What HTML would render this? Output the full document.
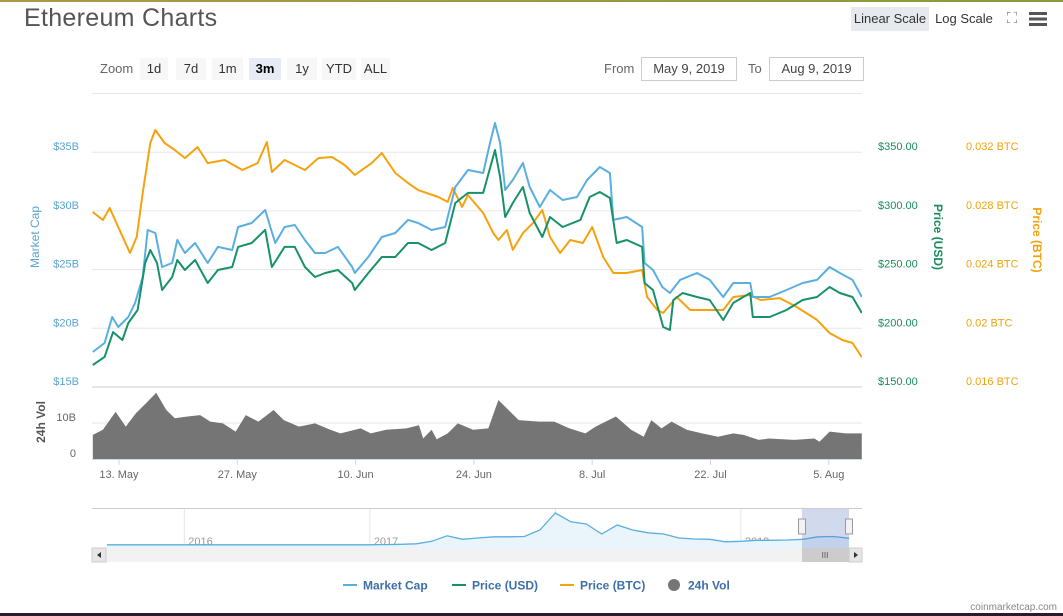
<!DOCTYPE html>
<html><head><meta charset="utf-8"><style>
body{margin:0;width:1063px;height:616px;overflow:hidden;background:#fff;font-family:"Liberation Sans",sans-serif;position:relative}
.topbar{position:absolute;left:0;top:0;width:1063px;height:2px;background:linear-gradient(90deg,#a89a4a,#8a9a3a)}
.botbar{position:absolute;left:0;top:613px;width:1063px;height:3px;background:#2a1a2a}
h1{position:absolute;left:24px;top:4px;margin:0;font-weight:normal;font-size:25px;color:#555;letter-spacing:0.3px}
.btn{position:absolute;font-size:13px;color:#333;text-align:center;line-height:24px;height:24px}
.zb{position:absolute;top:58px;height:22px;line-height:22px;font-size:13px;color:#333;background:#f7f7f7;text-align:center}
.box{position:absolute;top:57px;height:22px;line-height:22px;border:1px solid #ccc;font-size:13px;color:#444;text-align:center}
.lbl{position:absolute;font-size:13px;color:#666}
svg{position:absolute;left:0;top:0}
</style></head><body>
<div class="topbar"></div>
<h1>Ethereum Charts</h1>
<div class="btn" style="left:851px;top:7px;width:78px;background:#e6e9ee">Linear Scale</div>
<div class="btn" style="left:933px;top:7px;width:62px">Log Scale</div>
<div class="btn" style="left:1002px;top:7px;width:20px;color:#888;font-size:15px">⛶</div>
<div style="position:absolute;left:1029px;top:12px;width:18px;height:14px;background:linear-gradient(#555 0 3px,transparent 3px 5.5px,#555 5.5px 8.5px,transparent 8.5px 11px,#555 11px 14px)"></div>
<div class="lbl" style="left:100px;top:61px">Zoom</div>
<div class="zb" style="left:140px;width:28px">1d</div>
<div class="zb" style="left:176px;width:30px">7d</div>
<div class="zb" style="left:212px;width:31px">1m</div>
<div class="zb" style="left:249px;width:32px;background:#e6ebf5;font-weight:bold;color:#000">3m</div>
<div class="zb" style="left:287px;width:30px">1y</div>
<div class="zb" style="left:322px;width:34px">YTD</div>
<div class="zb" style="left:361px;width:29px">ALL</div>
<div class="lbl" style="left:604px;top:61px">From</div>
<div class="box" style="left:641px;width:94px">May 9, 2019</div>
<div class="lbl" style="left:748px;top:61px">To</div>
<div class="box" style="left:769px;width:93px">Aug 9, 2019</div>
<svg id="chart" width="1063" height="616"></svg>
<div class="botbar"></div>
<script>
// ---- data (days since 13 May 2019) ----
const mcDays=[-3.1,-1.7,-0.8,-0.1,1.1,1.9,2.8,3.4,4.3,5.1,6.3,6.9,7.8,9.0,10.5,11.7,13.4,14.1,15.7,17.3,17.9,18.5,19.6,20.8,22.0,23.2,24.4,25.9,27.6,27.9,29.5,31.1,32.7,34.2,35.4,37.0,38.6,39.8,41.3,43.1,43.9,44.5,45.1,45.7,46.6,47.8,48.6,49.8,51.0,52.5,54.2,55.4,56.9,58.1,58.5,60.1,61.9,62.2,63.2,64.3,65.2,66.4,68.4,69.9,71.5,72.7,74.7,75.0,77.0,79.0,80.9,82.6,84.1,85.3,86.8,87.9];
const mcVals=[17.98,18.75,20.96,20.11,20.96,22.16,24.37,28.37,28.12,25.22,25.56,27.52,26.41,27.27,25.56,26.93,26.67,28.63,28.97,30.08,28.63,27.27,28.63,28.80,27.52,26.41,26.41,26.93,25.22,24.71,26.07,27.78,28.12,29.23,28.97,28.37,28.63,32.04,33.48,33.23,35.78,37.49,35.78,31.78,32.63,34.08,32.04,30.33,31.78,30.93,31.18,32.63,33.74,33.23,29.23,29.48,28.63,25.56,24.97,23.52,23.01,24.12,24.71,24.12,22.67,23.86,23.86,22.67,22.67,23.26,23.86,24.12,25.22,24.71,24.12,22.67];
const usdDays=[-3.1,-1.7,-0.7,0.4,1.1,2.2,3.1,3.7,4.5,5.1,6.3,6.9,7.8,9.0,10.5,11.7,13.4,14.1,15.7,17.3,18.1,19.6,20.8,22.0,23.2,24.4,25.9,27.6,27.9,29.5,31.1,32.7,34.2,35.4,37.0,38.6,39.8,41.3,43.1,44.5,45.1,45.7,46.6,47.8,48.6,50.1,51.0,52.5,54.6,55.7,56.9,58.1,58.9,60.1,61.9,62.2,63.2,64.4,65.2,65.6,66.7,68.4,69.9,71.5,72.7,74.7,75.0,77.0,79.0,80.9,82.6,84.1,85.3,86.8,87.9];
const usdVals=[168.7,175.6,196.8,190.0,204.5,215.6,255.6,266.7,255.6,232.6,243.7,258.2,249.7,258.2,238.6,249.7,252.2,269.3,272.7,283.8,252.2,269.3,269.3,252.2,243.7,247.1,249.7,238.6,232.6,247.1,260.7,260.7,272.7,272.7,266.7,272.7,306.7,315.3,315.3,351.9,328.9,294.8,306.7,320.4,298.2,277.8,294.8,286.3,292.3,311.8,316.1,311.0,272.7,275.2,269.3,238.6,232.6,201.1,198.6,224.1,230.1,226.7,224.1,207.1,221.6,230.1,209.6,209.6,215.6,224.1,226.7,235.2,230.1,226.7,213.0];
const btcDays=[-3.1,-1.9,-1.1,-0.1,1.3,2.1,2.8,3.7,4.3,5.4,6.6,7.8,9.3,10.5,12.5,14.6,16.4,17.5,18.1,19.6,22.0,23.6,25.2,26.7,27.9,29.9,31.1,32.7,34.2,35.4,37.8,38.9,39.5,40.6,41.3,43.1,44.3,44.9,45.9,46.6,47.8,49.0,50.1,51.0,52.2,53.4,54.9,56.0,57.3,58.5,60.1,61.9,62.5,63.7,64.4,66.0,67.6,69.9,71.5,72.7,74.7,75.9,78.2,80.2,82.6,84.1,85.6,86.8,87.9];
const btcVals=[0.02792,0.02738,0.02820,0.02690,0.02513,0.02622,0.02922,0.03263,0.03351,0.03263,0.03215,0.03160,0.03235,0.03126,0.03147,0.03079,0.03126,0.03269,0.03065,0.03147,0.03079,0.03160,0.03167,0.03113,0.03045,0.03126,0.03194,0.03058,0.02990,0.02942,0.02895,0.02861,0.02956,0.02827,0.02908,0.02786,0.02649,0.02602,0.02670,0.02534,0.02649,0.02718,0.02806,0.02622,0.02513,0.02602,0.02581,0.02690,0.02486,0.02377,0.02377,0.02397,0.02213,0.02125,0.02104,0.02213,0.02125,0.02125,0.02125,0.02213,0.02227,0.02193,0.02206,0.02145,0.02057,0.01968,0.01920,0.01900,0.01804];
const volDays=[-3.1,-1.9,-0.4,0.8,2.0,3.2,4.4,5.6,6.6,8.1,9.6,10.8,12.3,13.8,15.0,16.5,18.3,19.5,21.3,23.2,25.0,26.2,28.6,29.8,31.6,34.0,35.5,36.0,37.0,37.6,38.9,40.1,41.9,43.7,44.9,46.1,47.3,49.7,51.5,53.3,55.2,56.4,58.8,60.6,62.1,63.0,64.2,65.4,67.2,69.0,70.9,72.7,73.9,75.7,76.9,79.9,82.3,82.9,84.1,86.0,87.9];
const volVals=[6.7,8.1,13.1,9.0,12.7,15.5,18.4,13.6,11.3,11.8,12.2,10.4,9.9,7.6,12.2,10.4,13.6,10.8,9.0,9.9,8.1,7.1,8.5,7.1,8.1,8.5,9.4,5.7,8.1,5.5,7.1,9.9,8.1,8.5,16.4,13.6,10.8,10.4,10.4,8.5,7.1,9.0,11.8,8.1,6.2,10.8,8.5,10.4,8.1,7.1,6.2,7.1,6.7,5.3,5.7,5.3,5.7,4.8,7.6,7.1,7.1];
const navVals=[1,1,1,1,1,1,1,1,1,1,1,1,1,1,1,1,1,1,1.5,3,5,15,37,23,28,33,33,34,60,128,93,84,44,80,60,49,44,28,24,23,13,15,19,19,20,23,33,34,27];
const navYears=['2016','2017','2018','2019'];
const navYearMonth=[5,17,29,41];
const xTickLabels=['13. May','27. May','10. Jun','24. Jun','8. Jul','22. Jul','5. Aug'];
const xTickDays=[0,14,28,42,56,70,84];
const mcTicks=[15,20,25,30,35];
const usdTicks=[150,200,250,300,350];
const btcTicks=[0.016,0.02,0.024,0.028,0.032];
const volTicks=[0,10];

// ---- scales ----
const X=d=>119+d*8.45;
const yMC=v=>387-(v-15)/5*58.7;
const yUSD=v=>387-(v-150)/50*58.7;
const yBTC=v=>387-(v-0.016)/0.004*58.7;
const yVol=v=>459-v*3.6;
const xNav=m=>107+m*15.46;
const yNav=v=>545-v/4;

const svg=document.getElementById('chart');
const NS='http://www.w3.org/2000/svg';
function mk(tag,attrs,parent){const e=document.createElementNS(NS,tag);for(const k in attrs)e.setAttribute(k,attrs[k]);(parent||svg).appendChild(e);return e;}
function txt(s,attrs){const t=mk('text',attrs);t.textContent=s;return t;}

const defs=mk('defs',{});
const cp=mk('clipPath',{id:'plotclip'},defs);
mk('rect',{x:92,y:100,width:770,height:360},cp);

// separator
let e=mk('line',{x1:92,y1:93.5,x2:862,y2:93.5,stroke:'#e6e6e6'});



// gridlines + y labels
mcTicks.forEach((v,i)=>{
  const y=yMC(v);
  const g=mk('line',{x1:92,y1:y,x2:862,y2:y,stroke:'#e6e6e6'});
  
  
  const t=txt('$'+v+'B',{x:79,y:y-2,'text-anchor':'end','font-size':11,fill:'#5aa4d4'});
  
  
});
usdTicks.forEach(v=>{
  const t=txt('$'+v.toFixed(2),{x:878,y:yUSD(v)-2,'font-size':11,fill:'#1a8c5a'});
  
  
});
btcTicks.forEach(v=>{
  const t=txt(String(+v.toFixed(3))+' BTC',{x:966,y:yBTC(v)-2,'font-size':11,fill:'#f0a30a'});
  
  
});
let t;
t=txt('Market Cap',{x:0,y:0,transform:'translate(39,237) rotate(-90)','text-anchor':'middle','font-size':12,fill:'#5aa4d4'});


t=txt('Price (USD)',{x:0,y:0,transform:'translate(934,237) rotate(90)','text-anchor':'middle','font-size':12,'font-weight':'bold',fill:'#1a8c5a'});


t=txt('Price (BTC)',{x:0,y:0,transform:'translate(1033,240) rotate(90)','text-anchor':'middle','font-size':12,'font-weight':'bold',fill:'#f0a30a'});



// volume panel
e=mk('line',{x1:92,y1:387,x2:862,y2:387,stroke:'#ccc'});


e=mk('line',{x1:92,y1:yVol(10),x2:862,y2:yVol(10),stroke:'#e6e6e6'});


volTicks.forEach(v=>{
  const tt=txt(v===0?'0':v+'B',{x:76,y:yVol(v)-2,'text-anchor':'end','font-size':11,fill:'#666'});
  
  
});
t=txt('24h Vol',{x:0,y:0,transform:'translate(45,422) rotate(-90)','text-anchor':'middle','font-size':12,'font-weight':'bold',fill:'#555'});



let vd='M'+X(volDays[0])+','+yVol(0);
volDays.forEach((d,i)=>{vd+=' L'+X(d).toFixed(1)+','+yVol(volVals[i]).toFixed(1);});
vd+=' L'+X(volDays[volDays.length-1])+','+yVol(0)+' Z';
e=mk('path',{d:vd,fill:'#757575','clip-path':'url(#plotclip)'});



// series lines
function line(days,vals,ys,color,name){
  let d='';
  days.forEach((dd,i)=>{d+=(i?' L':'M')+X(dd).toFixed(1)+','+ys(vals[i]).toFixed(1);});
  const p=mk('path',{d:d,fill:'none',stroke:color,'stroke-width':2,'stroke-linejoin':'round','clip-path':'url(#plotclip)'});
  
  
}
line(btcDays,btcVals,yBTC,'#f4a20e','price-btc-line');
line(mcDays,mcVals,yMC,'#5aaee0','market-cap-line');
line(usdDays,usdVals,yUSD,'#17916a','price-usd-line');

// x axis
e=mk('line',{x1:92,y1:459.5,x2:862,y2:459.5,stroke:'#ccd6eb'});


xTickDays.forEach((d,i)=>{
  const tk=mk('line',{x1:X(d),y1:460,x2:X(d),y2:465,stroke:'#ccd6eb'});
  
  
  const tl=txt(xTickLabels[i],{x:X(d),y:478,'text-anchor':'middle','font-size':11,fill:'#666'});
  
  
});

// navigator
e=mk('line',{x1:92,y1:508.5,x2:862,y2:508.5,stroke:'#ccc'});


navYearMonth.forEach((m,i)=>{
  const l=mk('line',{x1:xNav(m),y1:509,x2:xNav(m),y2:548,stroke:'#e6e6e6'});
  
  
  const yl=txt(navYears[i],{x:xNav(m)+4,y:545,'font-size':11,fill:'#999'});
  
  
});
let nd='', na='M'+xNav(0)+',548';
navVals.forEach((v,i)=>{nd+=(i?' L':'M')+xNav(i).toFixed(1)+','+yNav(v).toFixed(1);na+=' L'+xNav(i).toFixed(1)+','+yNav(v).toFixed(1);});
na+=' L'+xNav(navVals.length-1)+',548 Z';
e=mk('path',{d:na,fill:'#eaf4fb'});


e=mk('path',{d:nd,fill:'none',stroke:'#5aaee0','stroke-width':1.3});


e=mk('rect',{x:802,y:509,width:47,height:39,fill:'rgba(102,133,194,0.3)'});


[802,849].forEach(hx=>{
  const h=mk('rect',{x:hx-3.5,y:519,width:7,height:15,fill:'#f2f2f2',stroke:'#999'});
  
  
});
// scrollbar
e=mk('rect',{x:92,y:548,width:770,height:14,fill:'#f2f2f2'});


e=mk('rect',{x:802,y:548,width:47,height:14,fill:'#ccc'});


txt('III',{x:825,y:558,'text-anchor':'middle','font-size':8,fill:'#555'});
e=mk('rect',{x:92,y:548,width:14,height:14,fill:'#e6e6e6',stroke:'#ccc'});


mk('path',{d:'M101,552 L97,555 L101,558 Z',fill:'#333'});
e=mk('rect',{x:849,y:548,width:13,height:14,fill:'#e6e6e6',stroke:'#ccc'});


mk('path',{d:'M854,552 L858,555 L854,558 Z',fill:'#333'});

// legend
const legNames=['Market Cap','Price (USD)','Price (BTC)','24h Vol'];
const legColors=['#5aaee0','#17916a','#f4a20e','#757575'];
const legX=[343,452,560,668];
legNames.forEach((n,i)=>{
  const g=mk('g',{});
  
  
  if(i<3) mk('line',{x1:legX[i],y1:585,x2:legX[i]+14,y2:585,stroke:legColors[i],'stroke-width':2},g);
  else mk('circle',{cx:legX[i]+6,cy:585,r:6,fill:legColors[i]},g);
  const tt=mk('text',{x:legX[i]+20,y:589.5,'font-size':12,'font-weight':'bold',fill:'#3d6fa8'},g);
  tt.textContent=n;
});
t=txt('coinmarketcap.com',{x:1057,y:610,'text-anchor':'end','font-size':10,fill:'#888'});


</script>
</body></html>
